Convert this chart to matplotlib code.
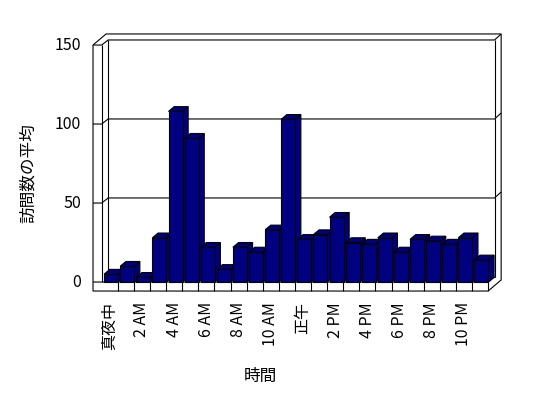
import numpy as np
import matplotlib
matplotlib.use("Agg")
from matplotlib import pyplot as plt
from matplotlib.patches import Polygon

plt.rcParams['font.family'] = ['Noto Sans CJK JP', 'DejaVu Sans']

# data
hours = list(range(24))
visits = [5, 10, 3, 28, 108, 91, 22, 8, 22, 19, 33, 103,
          27, 30, 41, 25, 24, 28, 19, 27, 26, 24, 28, 14]
tick_pos = [0, 2, 4, 6, 8, 10, 12, 14, 16, 18, 20, 22]
tick_labels = ["真夜中", "2 AM", "4 AM", "6 AM", "8 AM", "10 AM",
               "正午", "2 PM", "4 PM", "6 PM", "8 PM", "10 PM"]
y_ticks = [0, 50, 100, 150]

NAVY = "#000080"
LW = 0.8
# fake-3d offsets (data units): back wall, outer wall, bar depth
dx, dy = 0.4, 3.2
ox, oy = 0.81, 7.0
bx, by = 0.35, 3.0
wl = -0.54      # left wall front edge
fb = -5.7       # floor bottom
top = 150
n = len(hours)

fig = plt.figure(figsize=(5.48, 3.98), dpi=100)
ax = fig.add_axes([0, 0, 1, 1])
ax.set_xlim(-6.317, 27.72)
ax.set_ylim(-73.4, 178.5)
ax.axis("off")

def line(pts, z=2):
    xs, ys = zip(*pts)
    ax.plot(xs, ys, color="black", lw=LW, zorder=z, solid_capstyle="butt")

# walls + floor outline
outline = [(wl, fb), (n, fb), (n + ox, fb + oy), (n + ox, top + oy),
           (wl + ox, top + oy), (wl, top)]
ax.add_patch(Polygon(outline, closed=True, facecolor="white",
                     edgecolor="black", lw=LW, zorder=1))
line([(0, 0), (0, top)])
line([(wl, top), (0, top), (dx, top + dy), (n + dx, top + dy), (n + ox, top + oy)])
line([(n + dx, top + dy), (n + dx, dy)])
line([(dx, dy), (n + dx, dy)])
line([(dx, dy), (dx, top + dy)])
line([(wl, 0), (n, 0), (n + dx, dy)])
line([(n, fb), (n, 0)])
for i in range(1, n):
    line([(i, fb), (i, 0)])
for v in y_ticks[1:-1]:
    line([(wl, v), (0, v), (dx, v + dy), (n + dx, v + dy), (n + ox, v + oy)])

# bars: front face via ax.bar, top and side as polygons
bw = 0.87
for i, v in zip(hours, visits):
    z = 3 + i * 0.01
    x0 = i + 0.15
    x1 = x0 + bw
    side = [(x1, 0), (x1 + bx, by), (x1 + bx, v + by), (x1, v)]
    cap = [(x0, v), (x1, v), (x1 + bx, v + by), (x0 + bx, v + by)]
    for poly in (side, cap):
        ax.add_patch(Polygon(poly, closed=True, facecolor=NAVY,
                             edgecolor="black", lw=LW, zorder=z))
    ax.bar(x0, v, width=bw, align="edge", color=NAVY, edgecolor="black",
           lw=LW, zorder=z + 0.005)

# tick labels
for v in y_ticks:
    ax.text(-1.29, v, str(v), ha="right", va="center", fontsize=11.5)
for p, lab in zip(tick_pos, tick_labels):
    ax.text(p + 0.5, -12.7, lab, rotation=90, ha="center", va="top", fontsize=11.5)

ax.text(-4.58, 69, "訪問数の平均", rotation=90, ha="center", va="center", fontsize=12)
ax.text(9.83, -60, "時間", ha="center", va="center", fontsize=12)

fig.savefig("out.png", dpi=100, facecolor="white")
